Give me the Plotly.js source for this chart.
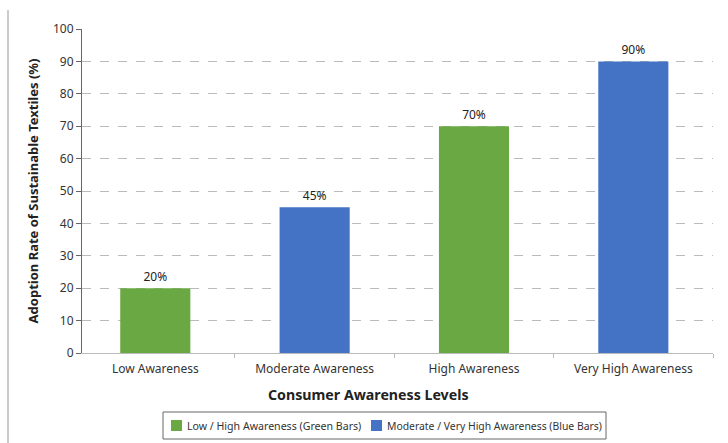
<!DOCTYPE html>
<html><head><meta charset="utf-8">
<script src="https://cdn.plot.ly/plotly-3.0.1.min.js"></script>
<style>html,body{margin:0;padding:0;background:#fff}#chart{width:728px;height:443px}</style>
</head><body><div id="chart"></div>
<script>
const categories = ["Low Awareness", "Moderate Awareness", "High Awareness", "Very High Awareness"];
const greenCats = ["Low Awareness", "High Awareness"];
const greenVals = [20, 70];
const blueCats = ["Moderate Awareness", "Very High Awareness"];
const blueVals = [45, 90];
const greenName = "Low / High Awareness (Green Bars)";
const blueName = "Moderate / Very High Awareness (Blue Bars)";
const xTitle = "Consumer Awareness Levels";
const yTitle = "Adoption Rate of Sustainable Textiles (%)";
const greenColor = "#6aa843";
const blueColor = "#4472c4";

const font = "Noto Sans, Open Sans, sans-serif";
const mk = (cats, vals, name, color) => ({
  type: "bar", x: cats, y: vals, name: name,
  marker: {color: color},
  width: 0.44,
  text: vals.map(v => v + "%"), textposition: "outside",
  textfont: {family: font, size: 12, color: "#222"},
  cliponaxis: false
});
const data = [
  mk(greenCats, greenVals, greenName, greenColor),
  mk(blueCats, blueVals, blueName, blueColor)
];

// plot area geometry (px) for placing the custom legend
const L = 82, R = 713, T = 29, B = 353;
const px = v => (v - L) / (R - L);
const py = v => (B - v) / (B - T);

const shapes = [
  {type: "line", xref: "paper", yref: "paper", x0: px(8), x1: px(8), y0: py(443), y1: py(10), line: {color: "#999", width: 1}},
  {type: "rect", xref: "paper", yref: "paper", x0: px(163), x1: px(606), y0: py(439), y1: py(412), line: {color: "#666", width: 1}, fillcolor: "#fff"},
  {type: "rect", xref: "paper", yref: "paper", x0: px(171), x1: px(182), y0: py(431), y1: py(420), line: {width: 0}, fillcolor: greenColor},
  {type: "rect", xref: "paper", yref: "paper", x0: px(371), x1: px(382), y0: py(431), y1: py(420), line: {width: 0}, fillcolor: blueColor}
];
const annotations = [
  {xref: "paper", yref: "paper", x: px(185), y: py(425.5), xanchor: "left", yanchor: "middle", showarrow: false, text: greenName, font: {family: font, size: 10.6, color: "#333"}},
  {xref: "paper", yref: "paper", x: px(385), y: py(425.5), xanchor: "left", yanchor: "middle", showarrow: false, text: blueName, font: {family: font, size: 10.4, color: "#333"}},
  {xref: "paper", yref: "paper", x: px(368), y: py(395), xanchor: "center", yanchor: "middle", showarrow: false, text: "<b>" + xTitle + "</b>", font: {family: font, size: 14.2, color: "#222"}}
];

const layout = {
  width: 728, height: 443,
  margin: {l: L, r: 728 - R, t: T, b: 443 - B, autoexpand: false},
  paper_bgcolor: "#fff", plot_bgcolor: "#fff",
  barmode: "overlay",
  font: {family: font, size: 12, color: "#333"},
  xaxis: {
    type: "category", categoryorder: "array", categoryarray: categories,
    range: [-0.46, 3.5],
    showline: true, linecolor: "#bbb", linewidth: 1,
    ticks: "outside", tickson: "boundaries", ticklen: 4, tickcolor: "#bbb",
    ticklabelstandoff: 5,
    tickfont: {family: font, size: 12, color: "#333"}
  },
  yaxis: {
    range: [0, 100], dtick: 10,
    showline: true, linecolor: "#666", linewidth: 1,
    ticks: "outside", ticklen: 5, tickcolor: "#666",
    gridcolor: "#bbb", griddash: "dash", zeroline: false,
    tickfont: {family: font, size: 12, color: "#333"},
    title: {text: "<b>" + yTitle + "</b>", font: {family: font, size: 13, color: "#222"}, standoff: 11}
  },
  showlegend: false,
  shapes: shapes,
  annotations: annotations
};
Plotly.newPlot("chart", data, layout, {displayModeBar: false, staticPlot: true});
</script></body></html>
